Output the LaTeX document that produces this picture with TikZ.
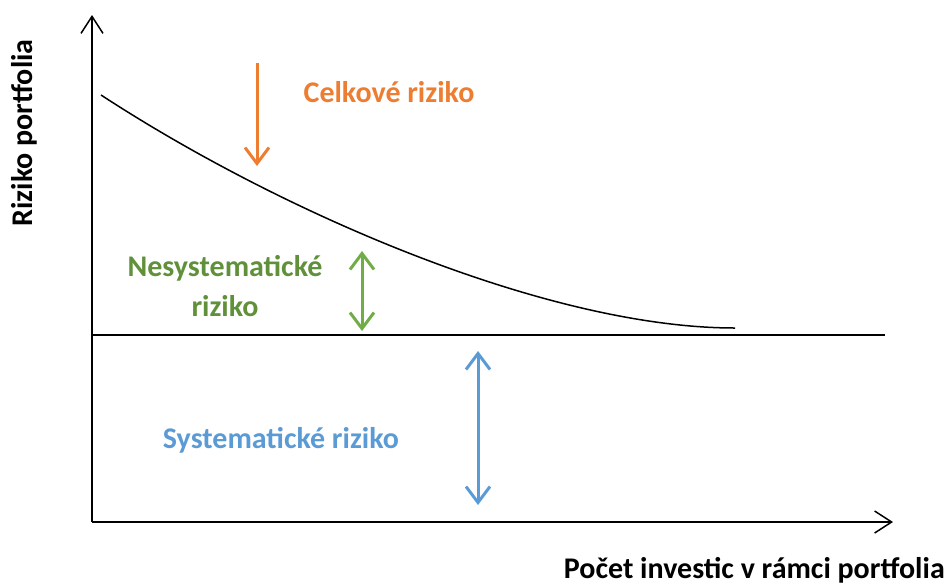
\documentclass[tikz,border=0pt]{standalone}
\usepackage{fontspec}
\setmainfont{Carlito}
\usetikzlibrary{arrows.meta}
\definecolor{orangeC}{RGB}{237,125,49}
\definecolor{greenA}{RGB}{112,173,71}
\definecolor{greenT}{RGB}{96,145,58}
\definecolor{blueC}{RGB}{91,155,213}
\tikzset{
  axis/.style={line width=1.5pt,-{Straight Barb[length=17pt,width=22pt,line width=1.5pt]}},
  riskarrow/.style={line width=3pt,{Straight Barb[length=16pt,width=24pt,line width=3pt]}-{Straight Barb[length=16pt,width=24pt,line width=3pt]}},
  downarrow/.style={line width=3pt,-{Straight Barb[length=16pt,width=24pt,line width=3pt]}},
  lbl/.style={font=\fontsize{30}{36}\selectfont\bfseries, inner sep=0pt, align=center}
}
\begin{document}
\begin{tikzpicture}[x=1pt,y=-1pt]
\useasboundingbox (0,0) rectangle (952,587);
% axes
\coordinate (O) at (92,522);
\coordinate (Ytop) at (92,15);
\coordinate (Xend) at (893,522);
\draw[axis] (O) -- (Ytop);
\draw[axis] (O) -- (Xend);
% systematic risk level
\coordinate (Hs) at (92,335);
\coordinate (He) at (885,335);
\draw[line width=1.5pt] (Hs) -- (He);
% total risk curve
\coordinate (Cs) at (101,95);
\coordinate (Ce) at (735,328);
\draw[line width=1.5pt] (Cs) .. controls (285,215) and (550,328) .. (Ce);
% arrows
\coordinate (Oa) at (257,63);
\coordinate (Ob) at (257,166);
\draw[downarrow, orangeC] (Oa) -- (Ob);
\coordinate (Ga) at (362,251);
\coordinate (Gb) at (362,331);
\draw[riskarrow, greenA] (Ga) -- (Gb);
\coordinate (Ba) at (478,351);
\coordinate (Bb) at (478,505);
\draw[riskarrow, blueC] (Ba) -- (Bb);
% labels
\node[lbl, text=orangeC] (celk) at (389,92) {Celkové riziko};
\node[lbl, text=greenT] (nesys1) at (225,268) {Nesystematické};
\node[lbl, text=greenT] (nesys2) at (225,306) {riziko};
\node[lbl, text=blueC] (sys) at (281,440) {Systematické riziko};
\node[lbl, rotate=90] (ylab) at (24,133) {Riziko portfolia};
\node[lbl, anchor=base east] (xlab) at (945,578) {Počet investic v rámci portfolia};
\end{tikzpicture}
\end{document}
